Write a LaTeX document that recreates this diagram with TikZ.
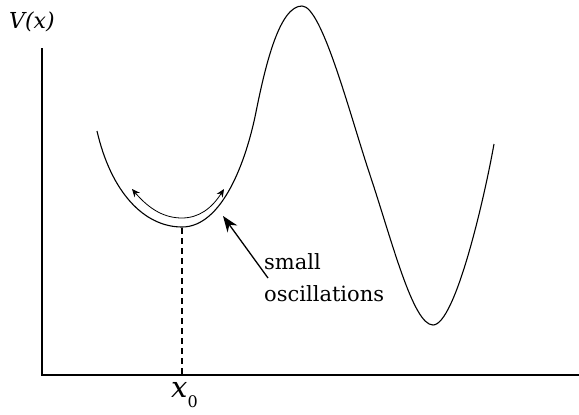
\documentclass[tikz,border=0pt]{standalone}
\usepackage{fontspec}
\setmainfont{DejaVu Serif}
\usetikzlibrary{arrows.meta}
\begin{document}
\begin{tikzpicture}[x=1pt,y=-1pt,
  curve/.style={line width=1.1pt},
  axis/.style={line width=1.1pt},
  lbl/.style={font=\fontsize{21}{32}\selectfont, inner sep=0pt}]
\useasboundingbox (0,0) rectangle (579,415);
\coordinate (ytop) at (42,48);
\coordinate (orig) at (42,375);
\coordinate (xend) at (579,375);
\draw[axis] (ytop) -- (orig) -- (xend);
\coordinate (s) at (97,131);
\coordinate (m1) at (182,227);
\coordinate (i1) at (256,112);
\coordinate (pk) at (302,6);
\coordinate (i2) at (370,175);
\coordinate (m2) at (433,325);
\coordinate (e) at (494,144);
\draw[curve] (s) .. controls (111,192) and (144,227) .. (m1)
  .. controls (222,227) and (246,162) .. (i1)
  .. controls (266,62) and (280,6) .. (pk)
  .. controls (322,6) and (350,115) .. (i2)
  .. controls (392,241) and (413,325) .. (m2)
  .. controls (455,325) and (484,200) .. (e);
\coordinate (min) at (182,228);
\coordinate (foot) at (182,375);
\draw[line width=1.1pt, dash pattern=on 6pt off 4pt] (min) -- (foot);
\coordinate (al) at (132,189);
\coordinate (ab) at (182,218);
\coordinate (ar) at (224,189);
\draw[line width=0.8pt, {Stealth[length=8pt,width=7pt]}-{Stealth[length=8pt,width=7pt]}]
  (al) .. controls (150,210) and (165,218) .. (ab) .. controls (199,218) and (212,208) .. (ar);
\node[lbl, anchor=base west, align=left] (txt) at (264,301) {small\\oscillations};
\coordinate (tail) at (268,278);
\coordinate (tip) at (223,216);
\draw[line width=1.3pt, -{Stealth[length=16pt,width=12pt]}] (tail) -- (tip);
\node[anchor=base west, inner sep=0pt] (vx) at (9,28) {\fontsize{22}{22}\selectfont\textit{V(x)}};
\node[anchor=base west, inner sep=0pt] (x0) at (171,397) {\fontsize{29}{29}\selectfont\textit{x}\raisebox{-10pt}{\fontsize{16}{16}\selectfont 0}};
\end{tikzpicture}
\end{document}
